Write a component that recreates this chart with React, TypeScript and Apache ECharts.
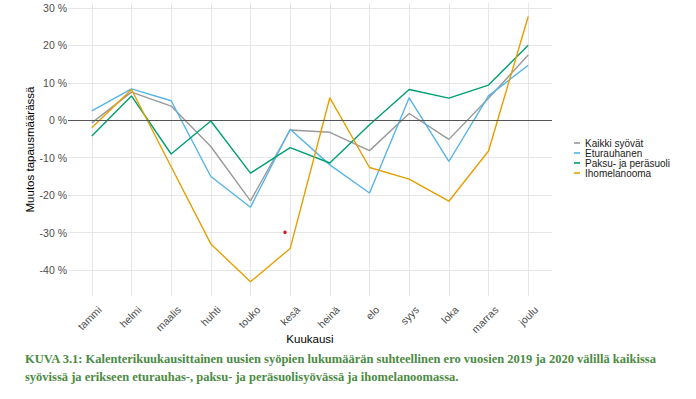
import React, { useEffect, useRef } from "react";
import * as echarts from "echarts";

const months = ["tammi", "helmi", "maalis", "huhti", "touko", "kesä", "heinä", "elo", "syys", "loka", "marras", "joulu"];
const kaikki = [-0.7, 7.5, 3.8, -7.0, -21.5, -2.6, -3.2, -8.1, 1.8, -5.1, 5.9, 17.4];
const eturauhanen = [2.5, 8.4, 5.2, -15.0, -23.2, -2.4, -11.9, -19.4, 6.0, -11.0, 6.5, 14.7];
const paksu = [-4.2, 6.5, -9.0, -0.2, -14.1, -7.3, -11.4, -1.2, 8.2, 5.9, 9.4, 20.0];
const iho = [-2.0, 8.2, -12.4, -33.0, -43.1, -34.2, 6.0, -12.6, -15.7, -21.6, -8.2, 27.7];
const strayPoint = [[4.87, -29.9]];
const yTicks = [-40, -30, -20, -10, 0, 10, 20, 30];
const seriesNames = ["Kaikki syövät", "Eturauhanen", "Paksu- ja peräsuoli", "Ihomelanooma"];
const seriesColors = ["#999999", "#56B4E9", "#009E73", "#E69F00"];
const seriesValues = [kaikki, eturauhanen, paksu, iho];
const caption =
  "KUVA 3.1: Kalenterikuukausittainen uusien syöpien lukumäärän suhteellinen ero vuosien 2019 ja 2020 välillä kaikissa\nsyövissä ja erikseen eturauhas-, paksu- ja peräsuolisyövässä ja ihomelanoomassa.";

export default function App() {
  const ref = useRef<HTMLDivElement>(null);
  useEffect(() => {
    if (!ref.current) return;
    const chart = echarts.init(ref.current, null, { renderer: "svg" });
    const font = "'Liberation Sans', Arial, sans-serif";
    const gridStyle = { color: "#e6e6e6", width: 1, type: "solid" };
    chart.setOption({
      animation: false,
      title: {
        text: caption,
        left: 20,
        top: 345,
        textStyle: {
          fontFamily: "'Liberation Serif', 'Times New Roman', serif",
          fontWeight: "bold",
          fontSize: 12.5,
          lineHeight: 18,
          color: "#4b8b44",
        },
      },
      grid: { left: 68, right: 144, top: 3, bottom: 103 },
      legend: {
        orient: "vertical",
        left: 569,
        top: 133,
        data: seriesNames,
        icon: "rect",
        itemWidth: 6,
        itemHeight: 1.6,
        itemGap: 0,
        textStyle: { fontFamily: font, fontSize: 10, color: "#1a1a1a" },
      },
      xAxis: {
        type: "value",
        min: -0.6,
        max: 11.6,
        splitNumber: 12,
        name: "Kuukausi",
        nameLocation: "middle",
        nameGap: 37,
        nameMoveOverlap: false,
        nameTextStyle: { fontFamily: font, fontSize: 11.5, color: "#000" },
        axisLine: { show: false },
        axisTick: { show: false },
        splitLine: { show: true, showMinLine: false, showMaxLine: false, lineStyle: gridStyle },
        axisLabel: {
          rotate: 45,
          margin: 4,
          verticalAlign: "top",
          align: "right",
          padding: [6, 0, 0, 0],
          showMinLabel: false,
          showMaxLabel: false,
          fontFamily: font,
          fontSize: 10.5,
          color: "#4d4d4d",
          formatter: (v: number) => (Number.isInteger(v) && months[v] ? months[v] : ""),
        },
      },
      yAxis: {
        type: "value",
        min: -46.9,
        max: 31.3,
        splitNumber: 8,
        name: "Muutos tapausmäärässä",
        nameLocation: "middle",
        nameRotate: 90,
        nameGap: 32,
        nameMoveOverlap: false,
        nameTextStyle: { fontFamily: font, fontSize: 11.5, color: "#000" },
        axisLine: { show: false },
        axisTick: { show: false },
        splitLine: { show: true, showMinLine: false, showMaxLine: false, lineStyle: gridStyle },
        axisLabel: {
          margin: 1,
          showMinLabel: false,
          showMaxLabel: false,
          fontFamily: font,
          fontSize: 10.5,
          color: "#4d4d4d",
          formatter: (v: number) => (yTicks.includes(v) ? `${v} %` : ""),
        },
      },
      series: [
        {
          type: "line",
          name: "zero",
          data: [],
          z: 1,
          silent: true,
          markLine: {
            silent: true,
            symbol: ["none", "none"],
            label: { show: false },
            lineStyle: { color: "#555555", width: 1, type: "solid" },
            emphasis: { disabled: true },
            data: [{ yAxis: 0 }],
            animation: false,
          },
        },
        ...seriesNames.map((name, k) => ({
          type: "line",
          name,
          z: 3,
          data: seriesValues[k].map((v, i) => [i, v]),
          showSymbol: false,
          symbol: "none",
          color: seriesColors[k],
          lineStyle: { color: seriesColors[k], width: 1.4 },
        })),
        {
          type: "scatter",
          name: "piste",
          data: strayPoint,
          symbol: "circle",
          symbolSize: 3.5,
          itemStyle: { color: "#d7191c", opacity: 1, borderWidth: 0 },
          z: 4,
        },
      ],
    });
    return () => chart.dispose();
  }, []);
  return <div ref={ref} style={{ width: 696, height: 399, position: "absolute", left: 0, top: 0 }} />;
}
